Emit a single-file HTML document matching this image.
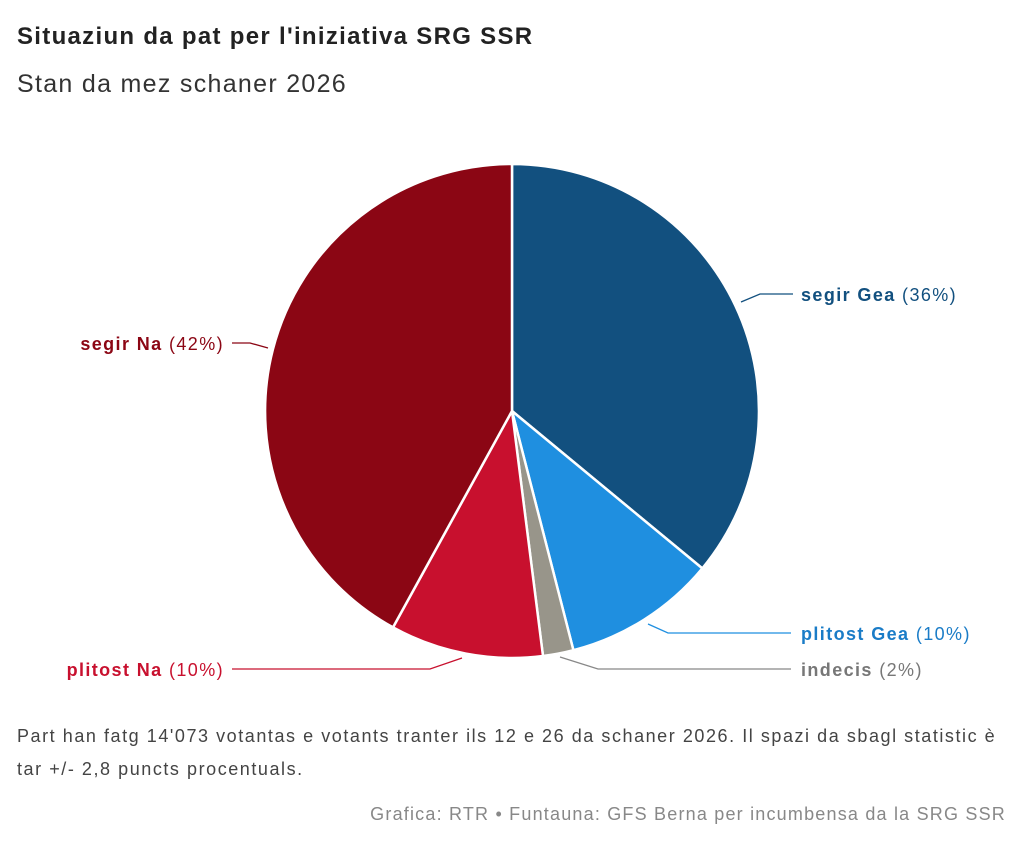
<!DOCTYPE html>
<html><head><meta charset="utf-8"><style>
html,body{margin:0;padding:0;background:#fff;width:1024px;height:849px;overflow:hidden;font-family:"Liberation Sans",sans-serif}
.t{position:absolute;left:17px;top:23px;font-size:24px;font-weight:bold;color:#222;letter-spacing:1.3px}
.s{position:absolute;left:17px;top:70px;font-size:25px;color:#333;letter-spacing:1.3px}
.f{position:absolute;left:17px;top:720px;font-size:18px;line-height:33px;color:#444;width:1010px;letter-spacing:1.55px;white-space:nowrap}
.src{position:absolute;right:18px;top:804px;font-size:18px;color:#888;letter-spacing:1.2px}
</style></head><body>
<div class="t">Situaziun da pat per l'iniziativa SRG SSR</div>
<div class="s">Stan da mez schaner 2026</div>
<svg width="1024" height="849" style="position:absolute;left:0;top:0" font-family="Liberation Sans, sans-serif" font-size="18" letter-spacing="1.4">
<g stroke="#fff" stroke-width="2.5" stroke-linejoin="round">
<path d="M512,411 L512,164 A247,247 0 0 1 702.3,568.4 Z" fill="#12507f"/>
<path d="M512,411 L702.3,568.4 A247,247 0 0 1 573.4,650.2 Z" fill="#1f8fe0"/>
<path d="M512,411 L573.4,650.2 A247,247 0 0 1 543,656 Z" fill="#98958a"/>
<path d="M512,411 L543,656 A247,247 0 0 1 393,627.4 Z" fill="#c8102e"/>
<path d="M512,411 L393,627.4 A247,247 0 0 1 512,164 Z" fill="#8b0614"/>
</g>
<g fill="none" stroke-width="1.3">
<polyline points="741,302 760,294 793,294" stroke="#12507f"/>
<polyline points="268,348 250,343 232,343" stroke="#8b0614"/>
<polyline points="648,624 668,633 791,633" stroke="#1f8fe0"/>
<polyline points="560,657 598,669 791,669" stroke="#888"/>
<polyline points="462,658 430,669 232,669" stroke="#c8102e"/>
</g>
<text x="801" y="301" fill="#12507f"><tspan font-weight="bold">segir Gea</tspan> (36%)</text>
<text x="224" y="350" fill="#8b0614" text-anchor="end"><tspan font-weight="bold">segir Na</tspan> (42%)</text>
<text x="801" y="640" fill="#1a7cc7"><tspan font-weight="bold">plitost Gea</tspan> (10%)</text>
<text x="801" y="676" fill="#777"><tspan font-weight="bold">indecis</tspan> (2%)</text>
<text x="224" y="676" fill="#c8102e" text-anchor="end"><tspan font-weight="bold">plitost Na</tspan> (10%)</text>
</svg>
<div class="f">Part han fatg 14'073 votantas e votants tranter ils 12 e 26 da schaner 2026. Il spazi da sbagl statistic è<br>tar +/- 2,8 puncts procentuals.</div>
<div class="src">Grafica: RTR • Funtauna: GFS Berna per incumbensa da la SRG SSR</div>
</body></html>
